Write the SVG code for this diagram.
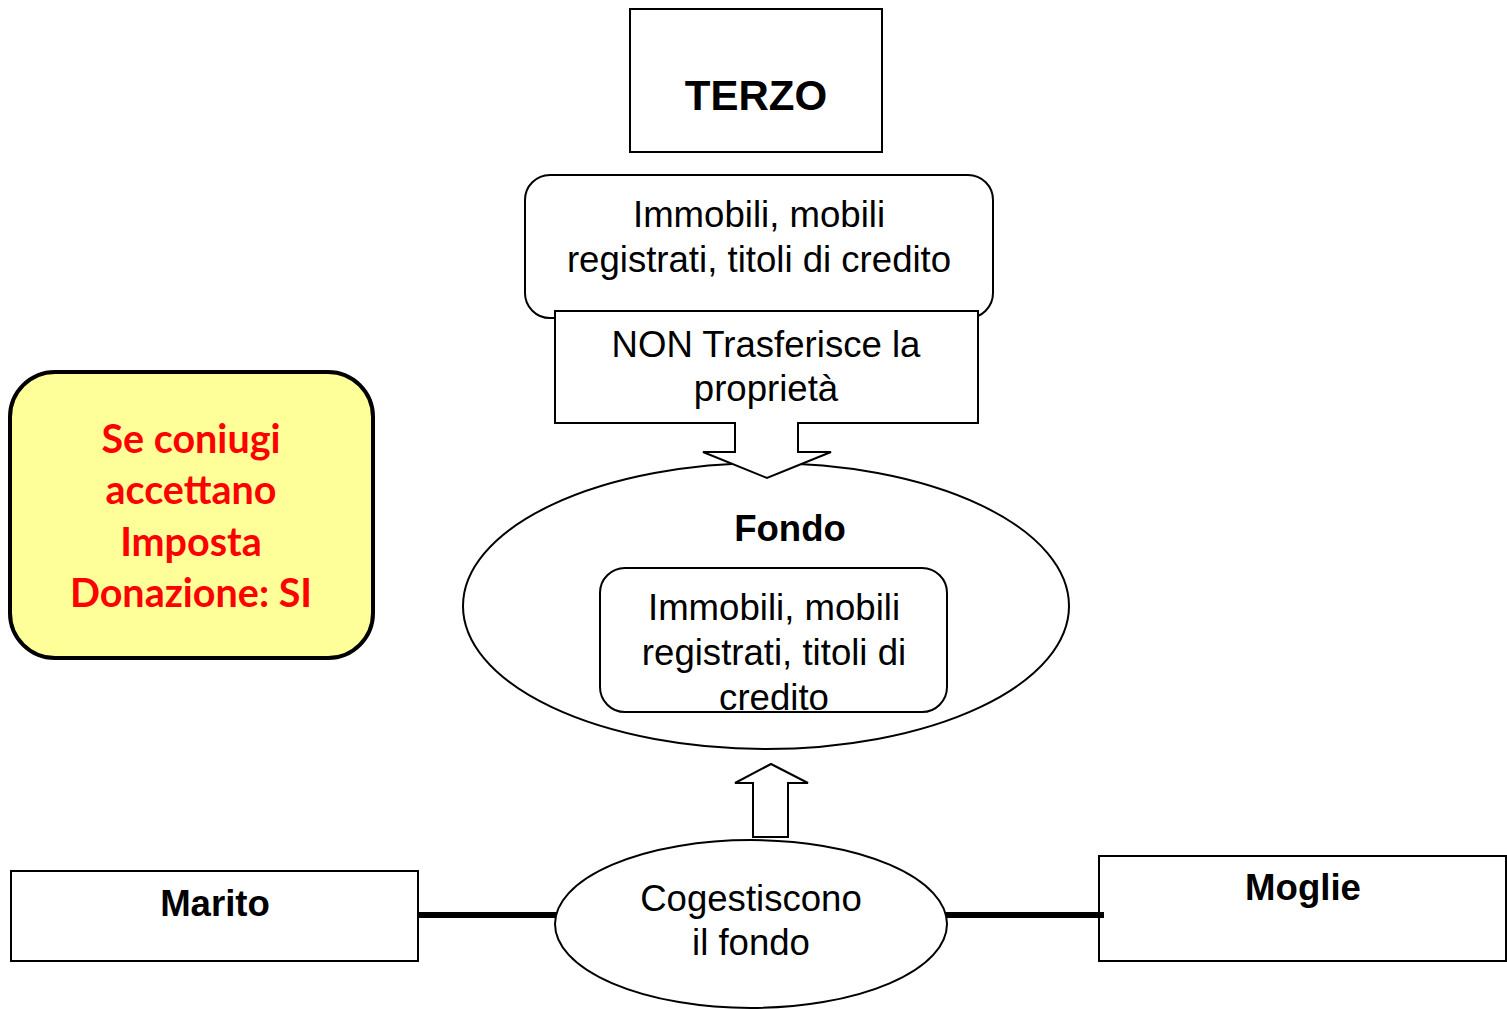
<svg xmlns="http://www.w3.org/2000/svg" width="1507" height="1009" viewBox="0 0 1507 1009">
<style>
.s{fill:#fff;stroke:#000;stroke-width:2}
.t{font-family:"Liberation Sans",Arial,sans-serif;font-size:36.6px;fill:#000;text-anchor:middle}
.b{font-weight:bold}
.y{font-family:Lato,"Liberation Sans",sans-serif;font-weight:bold;font-size:39.5px;fill:#f00;text-anchor:middle}
</style>
<rect width="1507" height="1009" fill="#fff"/>
<g id="terzo">
<rect class="s" x="630" y="9" width="252" height="143"/>
<text class="t b" x="756" y="110" style="font-size:42px">TERZO</text>
</g>
<g id="beni">
<rect class="s" x="525" y="175" width="468" height="143" rx="25"/>
<text class="t" x="759" y="227">Immobili, mobili</text>
<text class="t" x="759" y="272">registrati, titoli di credito</text>
</g>
<g id="fondo">
<ellipse class="s" cx="766" cy="606" rx="303" ry="143"/>
<text class="t b" x="790" y="541">Fondo</text>
<rect class="s" x="600" y="568" width="347" height="144" rx="25"/>
<text class="t" x="774" y="620">Immobili, mobili</text>
<text class="t" x="774" y="665">registrati, titoli di</text>
<text class="t" x="774" y="710">credito</text>
</g>
<g id="non-trasferisce">
<path class="s" d="M555 311 H978 V423 H798 V452 H831 L767 478 L703 452 H735 V423 H555 Z"/>
<text class="t" x="766" y="357">NON Trasferisce la</text>
<text class="t" x="766" y="401">proprietà</text>
</g>
<g id="up-arrow">
<path class="s" d="M753 837 V783 H735 L771 764 L808 783 H788 V837 Z"/>
</g>
<g id="cogestiscono">
<ellipse class="s" cx="751" cy="924" rx="196" ry="84"/>
<text class="t" x="751" y="911">Cogestiscono</text>
<text class="t" x="751" y="955">il fondo</text>
</g>
<g id="marito">
<rect class="s" x="11" y="871" width="407" height="90"/>
<text class="t b" x="215" y="916">Marito</text>
</g>
<g id="moglie">
<rect class="s" x="1099" y="856" width="407" height="105"/>
<text class="t b" x="1303" y="900">Moglie</text>
</g>
<g id="connectors">
<line x1="418" y1="915" x2="556" y2="915" stroke="#000" stroke-width="6"/>
<line x1="946" y1="915" x2="1104" y2="915" stroke="#000" stroke-width="6"/>
</g>
<g id="nota">
<rect x="10" y="372" width="363" height="286" rx="45" fill="#ffff99" stroke="#000" stroke-width="4"/>
<text class="y" x="191" y="453">Se coniugi</text>
<text class="y" x="191" y="504">accettano</text>
<text class="y" x="191" y="556">Imposta</text>
<text class="y" x="191" y="607">Donazione: SI</text>
</g>
</svg>
